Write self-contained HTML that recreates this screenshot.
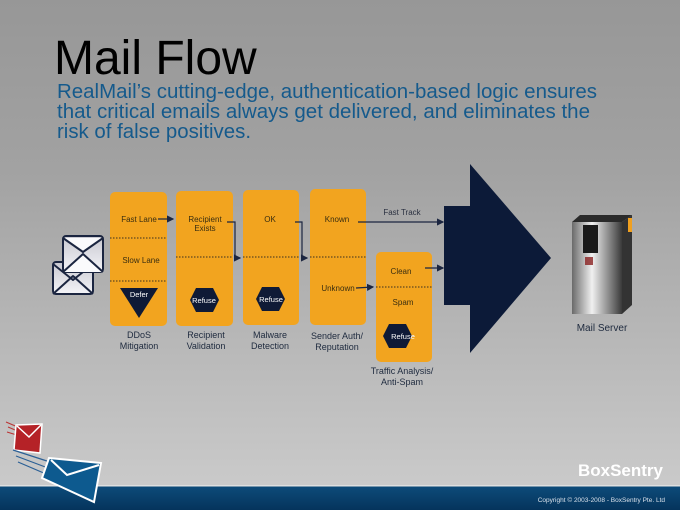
<!DOCTYPE html>
<html><head><meta charset="utf-8"><style>
body{margin:0;width:680px;height:510px;overflow:hidden}
svg{display:block}
text{font-family:"Liberation Sans",sans-serif}
</style></head><body>
<svg width="680" height="510" viewBox="0 0 680 510" xmlns="http://www.w3.org/2000/svg">
<defs>
<linearGradient id="bg" x1="0" y1="0" x2="0" y2="1">
<stop offset="0" stop-color="#979797"/><stop offset="0.35" stop-color="#a2a2a2"/><stop offset="1" stop-color="#cacaca"/>
</linearGradient>
<linearGradient id="ft" x1="0" y1="0" x2="0" y2="1">
<stop offset="0" stop-color="#0d4b7a"/><stop offset="1" stop-color="#05345c"/>
</linearGradient>
<linearGradient id="srv" x1="0" y1="0" x2="1" y2="0">
<stop offset="0" stop-color="#6a6a6a"/><stop offset="0.4" stop-color="#f0f0f0"/><stop offset="1" stop-color="#3a3a3a"/>
</linearGradient>
<linearGradient id="env" x1="0" y1="0" x2="0" y2="1">
<stop offset="0" stop-color="#c8c8d0"/><stop offset="1" stop-color="#f4f4f8"/>
</linearGradient>
<marker id="ar" markerWidth="6" markerHeight="6" refX="5" refY="3" orient="auto"><path d="M0,0 L6,3 L0,6z" fill="#1b2540"/></marker>
</defs>
<rect width="680" height="486" fill="url(#bg)"/>
<rect y="486" width="680" height="24" fill="url(#ft)"/>
<rect y="485" width="680" height="1.5" fill="#e0e0e0"/>

<text x="54" y="74" font-size="48" fill="#000">Mail Flow</text>
<g font-size="20" fill="#155a8c">
<text x="57" y="98" textLength="540" lengthAdjust="spacingAndGlyphs">RealMail’s cutting-edge, authentication-based logic ensures</text>
<text x="57" y="118" textLength="533" lengthAdjust="spacingAndGlyphs">that critical emails always get delivered, and eliminates the</text>
<text x="57" y="138" textLength="194" lengthAdjust="spacingAndGlyphs">risk of false positives.</text>
</g>

<g fill="#f2a41f">
<rect x="110" y="192" width="57" height="134" rx="5"/>
<rect x="176" y="191" width="57" height="135" rx="5"/>
<rect x="243" y="190" width="56" height="135" rx="5"/>
<rect x="310" y="189" width="56" height="136" rx="5"/>
<rect x="376" y="252" width="56" height="110" rx="5"/>
</g>
<g stroke="#3a3020" stroke-width="1" stroke-dasharray="1.5,1.5">
<line x1="110" y1="238" x2="167" y2="238"/>
<line x1="110" y1="281" x2="167" y2="281"/>
<line x1="176" y1="257" x2="233" y2="257"/>
<line x1="243" y1="257" x2="299" y2="257"/>
<line x1="310" y1="257" x2="366" y2="257"/>
<line x1="376" y1="287" x2="432" y2="287"/>
</g>
<g font-size="8" fill="#3a2e10" text-anchor="middle">
<text x="139" y="222">Fast Lane</text>
<text x="141" y="263">Slow Lane</text>
<text x="205" y="222">Recipient</text>
<text x="205" y="231">Exists</text>
<text x="270" y="222">OK</text>
<text x="337" y="222">Known</text>
<text x="338" y="291">Unknown</text>
<text x="401" y="274">Clean</text>
<text x="403" y="305">Spam</text>
<text x="402" y="215" fill="#2a3040">Fast Track</text>
</g>
<g fill="#0f1a36">
<path d="M120,288 L158,288 L139,318z"/>
<path d="M190,300 L196,288 L213,288 L219,300 L213,312 L196,312z"/>
<path d="M256,299 L262,287 L279,287 L285,299 L279,311 L262,311z"/>
<path d="M383,336 L389,324 L406,324 L412,336 L406,348 L389,348z"/>
</g>
<g font-size="7.5" fill="#fff" text-anchor="middle">
<text x="139" y="297">Defer</text>
<text x="204" y="303">Refuse</text>
<text x="271" y="302">Refuse</text>
<text x="403" y="339">Refuse</text>
</g>
<g stroke="#1b2540" stroke-width="1.2" fill="none" marker-end="url(#ar)">
<path d="M158,219 L173,219"/>
<path d="M227,222 L235,222 L235,258 L240,258"/>
<path d="M295,222 L302,222 L302,258 L307,258"/>
<path d="M358,222 L443,222"/>
<path d="M356,288 L373,287"/>
<path d="M425,268 L443,268"/>
</g>
<path d="M444,206 L470,206 L470,164 L551,258 L470,353 L470,305 L444,305z" fill="#0c1a38"/>

<rect x="572" y="222" width="50" height="92" fill="url(#srv)"/>
<path d="M572,222 L580,215 L632,215 L622,222z" fill="#2a2a2a"/>
<path d="M622,222 L632,215 L632,305 L622,314z" fill="#333"/>
<rect x="628" y="218" width="4" height="14" fill="#f0a020"/>
<rect x="583" y="225" width="15" height="28" fill="#1a1a1a"/>
<rect x="585" y="257" width="8" height="8" fill="#8a2020" opacity="0.8"/>
<text x="602" y="331" font-size="10" fill="#1e2a3e" text-anchor="middle">Mail Server</text>

<g font-size="9" fill="#1e2a3e" text-anchor="middle">
<text x="139" y="338">DDoS</text><text x="139" y="349">Mitigation</text>
<text x="206" y="338">Recipient</text><text x="206" y="349">Validation</text>
<text x="270" y="338">Malware</text><text x="270" y="349">Detection</text>
<text x="337" y="339">Sender Auth/</text><text x="337" y="350">Reputation</text>
<text x="402" y="374">Traffic Analysis/</text><text x="402" y="385">Anti-Spam</text>
</g>

<g stroke="#1b2540" stroke-width="2" stroke-linejoin="round">
<rect x="53" y="262" width="40" height="32" rx="3" fill="url(#env)"/>
<path d="M53,294 L73,276 L93,294 M53,264 L73,280 L93,264" fill="none"/>
<rect x="63" y="236" width="40" height="36" rx="3" fill="url(#env)"/>
<path d="M63,272 L83,254 L103,272 M63,238 L83,252 L103,238" fill="#fafafc"/>
</g>

<g stroke="#bb3333" stroke-width="1"><line x1="6" y1="422" x2="20" y2="428"/><line x1="8" y1="427" x2="20" y2="432"/><line x1="7" y1="432" x2="20" y2="436"/></g>
<path d="M16,425 L42,424 L40,453 L14,450z" fill="#b52227" stroke="#fff" stroke-width="1.5"/>
<path d="M17,426 L29,437 L41,425" stroke="#fff" stroke-width="1.5" fill="none"/>
<g stroke="#2a5f95" stroke-width="1.2"><line x1="13" y1="450" x2="50" y2="462"/><line x1="16" y1="456" x2="48" y2="468"/><line x1="18" y1="462" x2="46" y2="474"/></g>
<path d="M49,458 L101,463 L94,502 L42,478z" fill="#0d5a8f" stroke="#fff" stroke-width="2"/>
<path d="M51,460 L67,475 L99,465" stroke="#fff" stroke-width="2" fill="none"/>

<text x="663" y="476" font-size="17" font-weight="bold" fill="#fff" text-anchor="end">BoxSentry</text>
<text x="665" y="502" font-size="6.5" fill="#d8e0ea" text-anchor="end">Copyright © 2003-2008 - BoxSentry Pte. Ltd</text>
</svg>
</body></html>
